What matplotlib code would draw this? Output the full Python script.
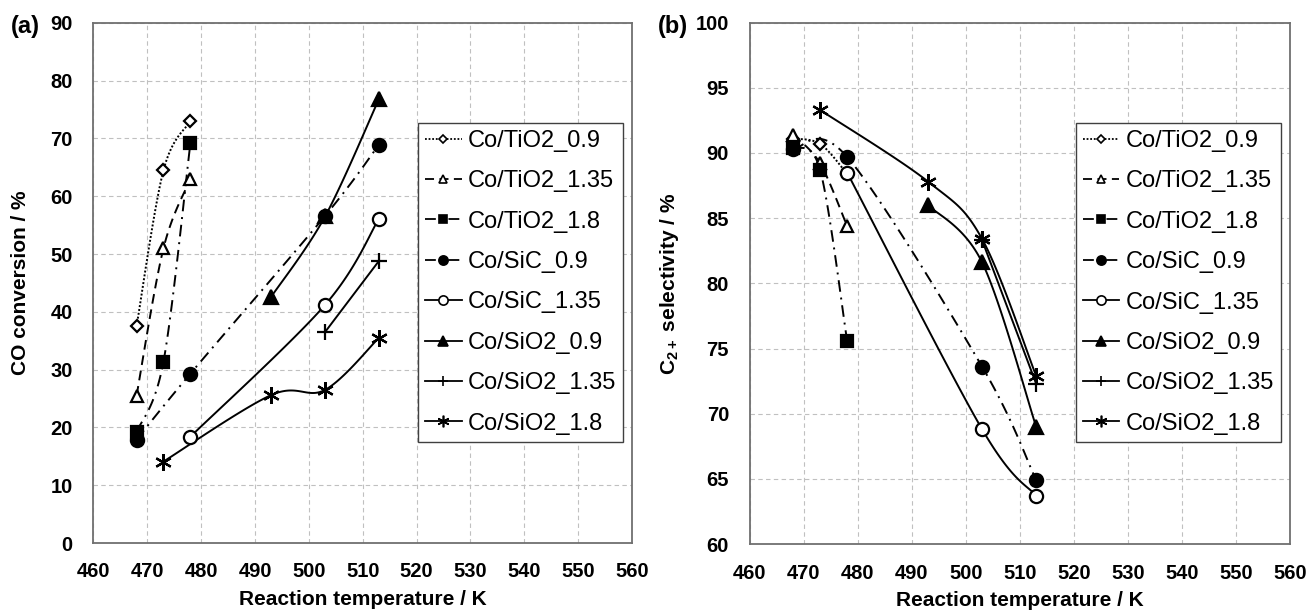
import numpy as np
import matplotlib
matplotlib.use("Agg")
import matplotlib.pyplot as plt
from matplotlib.lines import Line2D

plt.rcParams['font.family'] = ['Liberation Sans', 'DejaVu Sans']
plt.rcParams['mathtext.fontset'] = 'custom'
plt.rcParams['mathtext.rm'] = 'Liberation Sans:bold'
plt.rcParams['mathtext.bf'] = 'Liberation Sans:bold'
plt.rcParams['mathtext.default'] = 'bf'

# series names
names = ["Co/TiO2_0.9", "Co/TiO2_1.35", "Co/TiO2_1.8", "Co/SiC_0.9",
         "Co/SiC_1.35", "Co/SiO2_0.9", "Co/SiO2_1.35", "Co/SiO2_1.8"]

# reaction temperatures (K) per series
temp_tio2_09 = [468, 473, 478]
temp_tio2_135 = [468, 473, 478]
temp_tio2_18 = [468, 473, 478]
temp_sic_09 = [468, 478, 503, 513]
temp_sic_135 = [478, 503, 513]
temp_sio2_09 = [493, 503, 513]
temp_sio2_135 = [503, 513]
temp_sio2_18 = [473, 493, 503, 513]

# CO conversion (%)
conv_tio2_09 = [37.5, 64.5, 73.0]
conv_tio2_135 = [25.5, 51.0, 63.0]
conv_tio2_18 = [19.2, 31.4, 69.2]
conv_sic_09 = [17.9, 29.3, 56.6, 68.9]
conv_sic_135 = [18.4, 41.2, 56.1]
conv_sio2_09 = [42.6, 56.5, 76.8]
conv_sio2_135 = [36.5, 48.8]
conv_sio2_18 = [14.1, 25.6, 26.5, 35.5]

# C2+ selectivity (%)
sel_tio2_09 = [91.1, 90.7, 88.4]
sel_tio2_135 = [91.4, 89.2, 84.4]
sel_tio2_18 = [90.4, 88.7, 75.6]
sel_sic_09 = [90.3, 89.7, 73.6, 64.9]
sel_sic_135 = [88.5, 68.8, 63.7]
sel_sio2_09 = [86.0, 81.6, 69.0]
sel_sio2_135 = [83.3, 72.3]
sel_sio2_18 = [93.3, 87.8, 83.4, 72.9]

temps = [temp_tio2_09, temp_tio2_135, temp_tio2_18, temp_sic_09,
         temp_sic_135, temp_sio2_09, temp_sio2_135, temp_sio2_18]
convs = [conv_tio2_09, conv_tio2_135, conv_tio2_18, conv_sic_09,
         conv_sic_135, conv_sio2_09, conv_sio2_135, conv_sio2_18]
sels = [sel_tio2_09, sel_tio2_135, sel_tio2_18, sel_sic_09,
        sel_sic_135, sel_sio2_09, sel_sio2_135, sel_sio2_18]

dotted = (0, (1, 1))
dashed = (0, (5, 3))
dashdot = (0, (6, 3, 1, 3))
styles = [
    dict(ls=dotted, marker='D', ms=6.5, mfc='white'),
    dict(ls=dashed, marker='^', ms=9, mfc='white'),
    dict(ls=dashdot, marker='s', ms=8.5, mfc='black'),
    dict(ls=dashdot, marker='o', ms=9.5, mfc='black'),
    dict(ls='-', marker='o', ms=9.5, mfc='white'),
    dict(ls='-', marker='^', ms=10, mfc='black'),
    dict(ls='-', marker='+', ms=11, mfc='black'),
    dict(ls='-', marker=(6, 2, 0), ms=12, mfc='black'),
]


def smooth(ax, xs, ys, n=40):
	# Excel-like smoothing done in screen space
	pts = ax.transData.transform(np.column_stack([xs, ys]))
	if len(pts) < 3:
		return xs, ys
	P = np.vstack([pts[0], pts, pts[-1]])
	out = []
	t = np.linspace(0, 1, n)[:, None]
	for i in range(1, len(P) - 2):
		p0, p1, p2, p3 = P[i - 1], P[i], P[i + 1], P[i + 2]
		c1 = p1 + (p2 - p0) / 6
		c2 = p2 - (p3 - p1) / 6
		seg = ((1 - t) ** 3) * p1 + 3 * ((1 - t) ** 2) * t * c1 + 3 * (1 - t) * t ** 2 * c2 + t ** 3 * p2
		out.append(seg)
	curve = ax.transData.inverted().transform(np.vstack(out))
	return curve[:, 0], curve[:, 1]


def draw_panel(ax, values, ylim, ystep, ylabel, lab_x):
	ax.set_xlim(460, 560)
	ax.set_ylim(*ylim)
	ax.set_xticks(np.arange(460, 561, 10))
	ax.set_yticks(np.arange(ylim[0], ylim[1] + 0.1, ystep))
	ax.grid(True, color='#c0c0c0', ls=(0, (4, 3)), lw=0.8)
	ax.set_axisbelow(True)
	for s in ax.spines.values():
		s.set_color('#707070')
		s.set_linewidth(1.3)
	ax.tick_params(length=0, labelsize=14.5, pad=14)
	ax.tick_params(axis='y', pad=15)
	for lbl in ax.get_xticklabels() + ax.get_yticklabels():
		lbl.set_fontweight('bold')
	handles = []
	for xs, ys, st, name in zip(temps, values, styles, names):
		sx, sy = smooth(ax, xs, ys)
		ax.plot(sx, sy, color='black', ls=st['ls'], lw=1.4, zorder=3)
		ax.plot(xs, ys, ls='none', marker=st['marker'], ms=st['ms'], mfc=st['mfc'],
		        mec='black', mew=1.6, zorder=4)
		handles.append(Line2D([], [], color='black', ls=st['ls'], lw=1.3, marker=st['marker'],
		                      ms=st['ms'] * 0.7, mfc=st['mfc'], mec='black', mew=1.2, label=name))
	leg = ax.legend(handles=handles, loc='upper right', bbox_to_anchor=(0.983, 0.808),
	                fontsize=17, frameon=True, fancybox=False, framealpha=1,
	                edgecolor='#404040', handlelength=1.55, handletextpad=0.25,
	                labelspacing=0.78, borderpad=0.3, borderaxespad=0)
	leg.get_frame().set_linewidth(1.0)
	ax.set_xlabel("Reaction temperature / K", fontsize=15, fontweight='bold')
	ax.set_ylabel(ylabel, fontsize=15, fontweight='bold')
	ax.xaxis.set_label_coords(0.5, -0.09)
	ax.yaxis.set_label_coords(lab_x, 0.5)


fig = plt.figure(figsize=(13.11, 6.12), dpi=100)
ax_a = fig.add_axes([0.0713, 0.1127, 0.4108, 0.850])
ax_b = fig.add_axes([0.572, 0.111, 0.412, 0.852])

draw_panel(ax_a, convs, (0, 90), 10, "CO conversion / %", -0.118)
draw_panel(ax_b, sels, (60, 100), 5, "C$_{2+}$ selectivity / %", -0.128)

fig.text(25 / 1311, 1 - 27 / 612, "(a)", fontsize=17, fontweight='bold', ha='center', va='center')
fig.text(673 / 1311, 1 - 27 / 612, "(b)", fontsize=17, fontweight='bold', ha='center', va='center')

fig.savefig("out.png", dpi=100)
